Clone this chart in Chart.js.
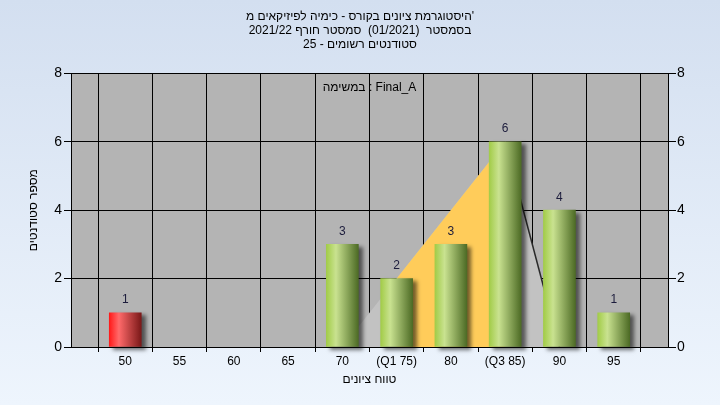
<!DOCTYPE html>
<html lang="he">
<head>
<meta charset="UTF-8">
<title>היסטוגרמת ציונים</title>
<script src="https://cdn.jsdelivr.net/npm/chart.js"></script>
<style>
  html, body { margin: 0; padding: 0; }
  body {
    width: 720px;
    height: 405px;
    overflow: hidden;
    background: linear-gradient(to bottom, #d3dff0, #eef5fd);
  }
</style>
</head>
<body>
<canvas id="grades" width="720" height="405"></canvas>
<script>
// grade bins (first and last are empty edge slots)
const gradeLabels = ['45', '50', '55', '60', '65', '70', '75', '80', '85', '90', '95', '100'];
const studentCounts = [null, 1, 0, 0, 0, 3, 2, 3, 6, 4, 1, null];
// distribution shape behind the bars
const curveOuter = [null, null, null, null, null, 0, 2, null, 6, 0, null, null];
const curveIqr = [null, null, null, null, null, null, 2, null, 6, null, null, null];
const quartileNames = { '75': 'Q1', '85': 'Q3' };
const failGrades = ['50'];
const yTicks = [0, 2, 4, 6, 8];

const titleLines = [
  "היסטוגרמת ציונים בקורס - כימיה לפיזיקאים מ'",
  'בסמסטר  (01/2021)  סמסטר חורף 2021/22',
  'סטודנטים רשומים - 25'
];
const taskNote = 'במשימה : Final_A';

Chart.defaults.font.family = "'Liberation Sans', Arial, sans-serif";
Chart.defaults.color = '#000';

function barGradient(c) {
  const chart = c.chart;
  if (!studentCounts[c.dataIndex]) return 'rgba(0,0,0,0)';
  if (!chart.chartArea) return '#9cc850';
  const x = chart.scales.x.getPixelForValue(c.dataIndex);
  const g = chart.ctx.createLinearGradient(x - 16, 0, x + 16, 0);
  if (failGrades.includes(gradeLabels[c.dataIndex])) {
    g.addColorStop(0, '#ff1a1a');
    g.addColorStop(0.3, '#ff6a6a');
    g.addColorStop(1, '#7a1818');
  } else {
    g.addColorStop(0, '#a2cc48');
    g.addColorStop(0.3, '#c9e290');
    g.addColorStop(1, '#4d6b25');
  }
  return g;
}

const plotBack = {
  id: 'plotBack',
  beforeDraw(chart) {
    const a = chart.chartArea;
    chart.ctx.save();
    chart.ctx.fillStyle = '#b4b4b4';
    chart.ctx.fillRect(a.left, a.top, a.right - a.left, a.bottom - a.top);
    chart.ctx.restore();
  }
};

const barShadow = {
  id: 'barShadow',
  beforeDatasetDraw(chart, args) {
    if (args.meta.type !== 'bar') return;
    const ctx = chart.ctx;
    ctx.save();
    ctx.shadowColor = 'rgba(0,0,0,0.55)';
    ctx.shadowBlur = 4;
    ctx.shadowOffsetX = 4;
    ctx.shadowOffsetY = 3;
  },
  afterDatasetDraw(chart, args) {
    if (args.meta.type !== 'bar') return;
    chart.ctx.restore();
  }
};

const barValues = {
  id: 'barValues',
  afterDatasetsDraw(chart) {
    const ctx = chart.ctx;
    const area = chart.chartArea;
    ctx.save();
    ctx.font = "12px 'Liberation Sans', Arial, sans-serif";
    ctx.textAlign = 'center';
    ctx.textBaseline = 'middle';
    ctx.fillStyle = '#1c1c3c';
    chart.getDatasetMeta(0).data.forEach((el, i) => {
      const v = studentCounts[i];
      if (!v) return;
      ctx.fillText(String(v), el.x, el.y - 13);
    });
    ctx.direction = 'ltr';
    ctx.fillStyle = '#000';
    ctx.fillText(taskNote, (area.left + area.right) / 2, area.top + 14);
    ctx.restore();
  }
};

new Chart(document.getElementById('grades'), {
  data: {
    labels: gradeLabels,
    datasets: [
      {
        type: 'bar',
        data: studentCounts,
        backgroundColor: barGradient,
        borderWidth: 0,
        barThickness: 32,
        clip: false,
        order: 0
      },
      {
        type: 'line',
        data: curveIqr,
        fill: 'origin',
        backgroundColor: '#ffcc5a',
        borderWidth: 0,
        pointRadius: 0,
        spanGaps: true,
        tension: 0,
        order: 1
      },
      {
        type: 'line',
        data: curveOuter,
        fill: 'origin',
        backgroundColor: '#c2c2c2',
        borderColor: 'rgba(0,0,0,0)',
        borderWidth: 1.5,
        segment: {
          borderColor: s => (s.p0DataIndex === 8 ? '#2a2a2a' : 'rgba(0,0,0,0)')
        },
        pointRadius: 0,
        spanGaps: true,
        tension: 0,
        order: 2
      }
    ]
  },
  options: {
    responsive: false,
    animation: false,
    devicePixelRatio: 1,
    plugins: {
      legend: { display: false },
      tooltip: { enabled: false },
      title: {
        display: true,
        text: titleLines,
        color: '#000',
        font: { size: 12, weight: 'normal', lineHeight: 1.15 },
        padding: { top: 10, bottom: 22 }
      }
    },
    scales: {
      x: {
        type: 'category',
        offset: false,
        grid: { color: '#000', tickColor: '#000', tickLength: 5 },
        border: { color: '#000' },
        ticks: {
          autoSkip: false,
          maxRotation: 0,
          padding: 2,
          color: '#000',
          font: { size: 12 },
          callback: (v, i) => {
            if (i === 0 || i === gradeLabels.length - 1) return '';
            const g = gradeLabels[i];
            return quartileNames[g] ? '(' + quartileNames[g] + ' ' + g + ')' : g;
          }
        },
        title: {
          display: true,
          text: 'טווח ציונים',
          color: '#000',
          font: { size: 12 },
          padding: { top: 0, bottom: 18 }
        },
        afterFit: s => { s.height = 58; }
      },
      y: {
        position: 'left',
        min: 0,
        max: 8,
        afterBuildTicks: s => { s.ticks = yTicks.map(v => ({ value: v })); },
        grid: { color: '#000', tickColor: '#000', tickLength: 7 },
        border: { color: '#000' },
        ticks: { color: '#000', font: { size: 14 }, padding: 2 },
        title: {
          display: true,
          text: 'מספר סטודנטים',
          color: '#000',
          font: { size: 12 },
          padding: { top: 26, bottom: 0 }
        },
        afterFit: s => { s.width = 71; }
      },
      y2: {
        position: 'right',
        min: 0,
        max: 8,
        afterBuildTicks: s => { s.ticks = yTicks.map(v => ({ value: v })); },
        grid: { drawOnChartArea: false, tickColor: '#000', tickLength: 8 },
        border: { color: '#000' },
        ticks: { color: '#000', font: { size: 14 }, padding: 1 },
        afterFit: s => { s.width = 52; }
      }
    }
  },
  plugins: [plotBack, barShadow, barValues]
});
</script>
</body>
</html>
